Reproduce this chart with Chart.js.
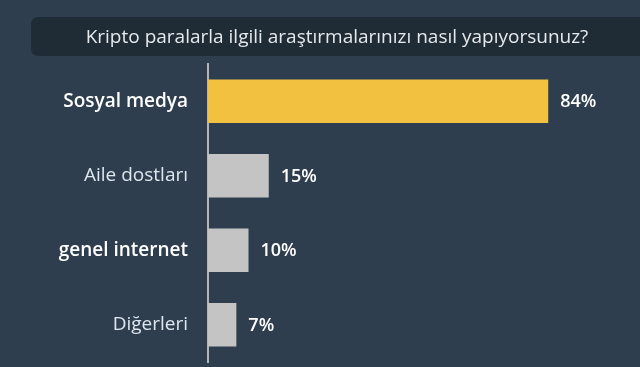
<!DOCTYPE html>
<html>
<head>
<meta charset="utf-8">
<script src="https://cdn.jsdelivr.net/npm/chart.js@4"></script>
<style>
  html, body { margin: 0; padding: 0; background: #2e3e4e; overflow: hidden; }
  #wrap { width: 640px; height: 367px; position: relative; }
</style>
</head>
<body>
<div id="wrap"><canvas id="c"></canvas></div>
<script>
const titleText = "Kripto paralarla ilgili araştırmalarınızı nasıl yapıyorsunuz?";
const categories = ["Sosyal medya", "Aile dostları", "genel internet", "Diğerleri"];
const values = [84, 15, 10, 7];
const valueLabels = ["84%", "15%", "10%", "7%"];
const barColors = ["#f2c140", "#c4c4c4", "#c4c4c4", "#c4c4c4"];
const labelWeights = ["600", "400", "600", "400"];
const labelColors = ["#ffffff", "#dde6ee", "#ffffff", "#dde6ee"];

const FONT = "'Open Sans', 'Noto Sans', sans-serif";

const decor = {
  id: 'decor',
  beforeDraw(chart) {
    const ctx = chart.ctx;
    ctx.save();
    ctx.fillStyle = "#2e3e4e";
    ctx.fillRect(0, 0, chart.width, chart.height);
    const x = 31, y = 17, w = 620, h = 39, r = 8;
    ctx.fillStyle = "#1f2b35";
    ctx.beginPath();
    ctx.moveTo(x + r, y);
    ctx.lineTo(x + w - r, y);
    ctx.quadraticCurveTo(x + w, y, x + w, y + r);
    ctx.lineTo(x + w, y + h - r);
    ctx.quadraticCurveTo(x + w, y + h, x + w - r, y + h);
    ctx.lineTo(x + r, y + h);
    ctx.quadraticCurveTo(x, y + h, x, y + h - r);
    ctx.lineTo(x, y + r);
    ctx.quadraticCurveTo(x, y, x + r, y);
    ctx.closePath();
    ctx.fill();
    ctx.fillStyle = "#e6e9ec";
    ctx.font = "400 19px " + FONT;
    ctx.textAlign = "center";
    ctx.textBaseline = "middle";
    ctx.fillText(titleText, 337, 38);
    ctx.restore();
  },
  afterDatasetsDraw(chart) {
    const ctx = chart.ctx;
    const meta = chart.getDatasetMeta(0);
    ctx.save();
    ctx.fillStyle = "#ffffff";
    ctx.font = "600 18px " + FONT;
    ctx.textAlign = "left";
    ctx.textBaseline = "middle";
    meta.data.forEach((bar, i) => {
      ctx.fillText(valueLabels[i], bar.x + 12, bar.y + 1);
    });
    ctx.restore();
  }
};

new Chart(document.getElementById('c'), {
  type: 'bar',
  data: {
    labels: categories,
    datasets: [{
      data: values,
      backgroundColor: barColors,
      borderWidth: 0,
      barPercentage: 1,
      categoryPercentage: 0.585
    }]
  },
  options: {
    indexAxis: 'y',
    responsive: true,
    maintainAspectRatio: false,
    animation: false,
    devicePixelRatio: 1,
    layout: { padding: { top: 64, bottom: 5, left: 0, right: 27 } },
    plugins: { legend: { display: false }, tooltip: { enabled: false }, title: { display: false } },
    scales: {
      x: { display: false, min: 0, max: 100 },
      y: {
        afterFit(scale) { scale.width = 208; scale.paddingTop = 0; scale.paddingBottom = 0; },
        grid: { display: false, drawTicks: false },
        border: { display: true, color: "#b4b4b4", width: 2 },
        ticks: {
          padding: 20,
          color: (c) => labelColors[c.index],
          font: (c) => ({ family: FONT, size: 19, weight: labelWeights[c.index] })
        }
      }
    }
  },
  plugins: [decor]
});
</script>
</body>
</html>
